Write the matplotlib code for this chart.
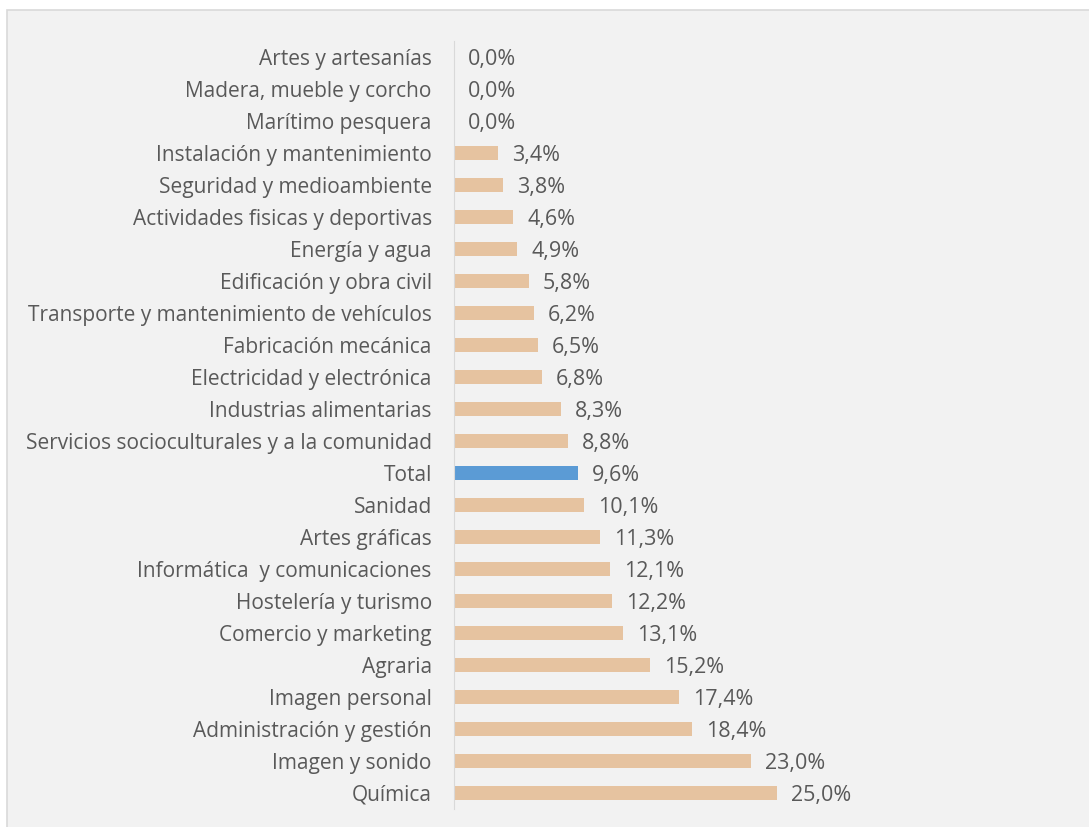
import matplotlib.pyplot as plt
from matplotlib.patches import Rectangle

sectors = ["Artes y artesanías", "Madera, mueble y corcho", "Marítimo pesquera",
           "Instalación y mantenimiento", "Seguridad y medioambiente",
           "Actividades fisicas y deportivas", "Energía y agua", "Edificación y obra civil",
           "Transporte y mantenimiento de vehículos", "Fabricación mecánica",
           "Electricidad y electrónica", "Industrias alimentarias",
           "Servicios socioculturales y a la comunidad", "Total", "Sanidad",
           "Artes gráficas", "Informática  y comunicaciones", "Hostelería y turismo",
           "Comercio y marketing", "Agraria", "Imagen personal",
           "Administración y gestión", "Imagen y sonido", "Química"]
values = [0.0, 0.0, 0.0, 3.4, 3.8, 4.6, 4.9, 5.8, 6.2, 6.5, 6.8, 8.3, 8.8, 9.6,
          10.1, 11.3, 12.1, 12.2, 13.1, 15.2, 17.4, 18.4, 23.0, 25.0]

W, H = 1089, 827
plt.rcParams['font.family'] = ['Open Sans', 'DejaVu Sans']
text_color = '#595959'

fig = plt.figure(figsize=(W / 100, H / 100), dpi=100)
fig.patch.set_facecolor('white')
fig.patches.append(Rectangle((7 / W, -0.05), 1.1, (H - 10) / H + 0.05,
                             transform=fig.transFigure, facecolor='#f2f2f2',
                             edgecolor='#d9d9d9', linewidth=1.2, zorder=-5))

n = len(sectors)
spacing = (793 - 57) / (n - 1)
top = 57 - spacing / 2
bottom = 793 + spacing / 2
scale = (777 - 454) / 25.0
xmax = 30
ax = fig.add_axes([454 / W, 1 - bottom / H, xmax * scale / W, (bottom - top) / H])
ax.set_facecolor('none')

colors = ['#5b9bd5' if s == 'Total' else '#e6c3a0' for s in sectors]
ys = list(range(n))
ax.barh(ys, values, height=0.43, color=colors)
ax.set_ylim(n - 0.5, -0.5)
ax.set_xlim(0, xmax)

for y, v in zip(ys, values):
    ax.annotate(f"{v:.1f}%".replace('.', ','), (v, y), xytext=(14, 0),
                textcoords='offset pixels', va='center_baseline', ha='left',
                fontsize=15.5, color=text_color)

ax.set_yticks(ys)
ax.set_yticklabels(sectors, fontsize=15, color=text_color)
ax.tick_params(axis='y', length=0, pad=16)
ax.set_xticks([])
for side in ['top', 'right', 'bottom']:
    ax.spines[side].set_visible(False)
ax.spines['left'].set_color('#d9d9d9')

fig.savefig('out.png', dpi=100)
